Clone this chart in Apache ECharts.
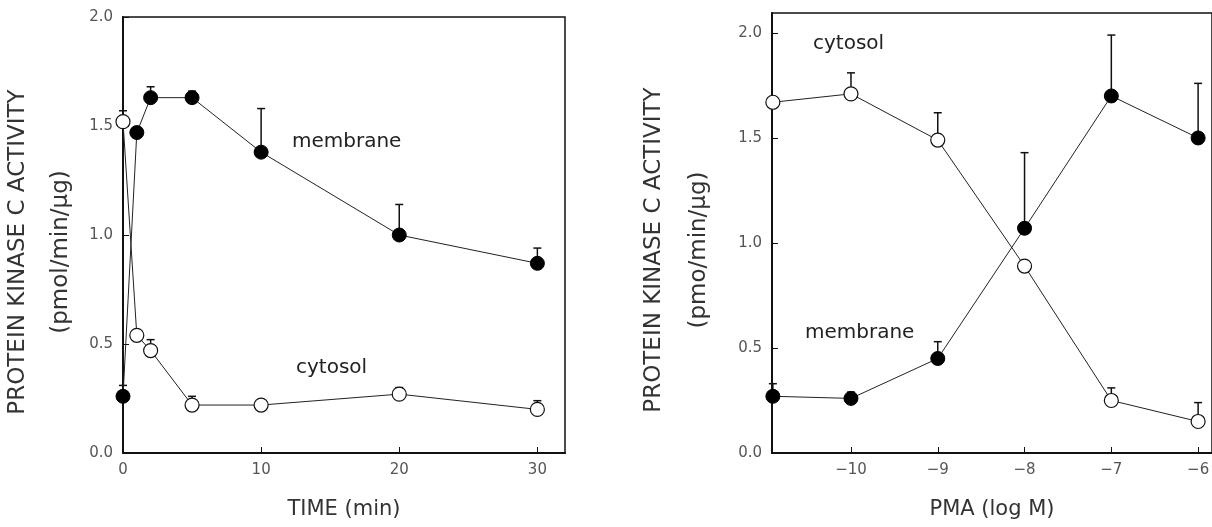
<!DOCTYPE html>
<html>
<head>
<meta charset="utf-8">
<script src="https://cdn.jsdelivr.net/npm/echarts@6/dist/echarts.min.js"></script>
<style>
  html, body { margin: 0; padding: 0; background: #fff; }
  #chart { width: 1212px; height: 527px; }
</style>
</head>
<body>
<div id="chart"></div>
<script>
// left panel: time course
const timeMin = [0, 1, 2, 5, 10, 20, 30];
const timeMembrane = [0.26, 1.47, 1.63, 1.63, 1.38, 1.00, 0.87];
const timeMembraneErr = [0.31, 1.47, 1.68, 1.66, 1.58, 1.14, 0.94];
const timeCytosol = [1.52, 0.54, 0.47, 0.22, 0.22, 0.27, 0.20];
const timeCytosolErr = [1.57, 0.54, 0.52, 0.26, 0.22, 0.30, 0.24];
const timeTicks = [0, 10, 20, 30];

// right panel: dose response
const pmaLog = [-10.9, -10, -9, -8, -7, -6];
const pmaCytosol = [1.67, 1.71, 1.49, 0.89, 0.25, 0.15];
const pmaCytosolErr = [1.67, 1.81, 1.62, 0.89, 0.31, 0.24];
const pmaMembrane = [0.27, 0.26, 0.45, 1.07, 1.70, 1.50];
const pmaMembraneErr = [0.33, 0.29, 0.53, 1.43, 1.99, 1.76];
const pmaTicks = [-10, -9, -8, -7, -6];

const yTicks = [0, 0.5, 1, 1.5, 2];

const FONT = 'DejaVu Sans';
const chart = echarts.init(document.getElementById('chart'));

const pairs = (xs, ys) => xs.map((x, i) => [x, ys[i]]);
const errPairs = (xs, ys, tops) => xs.map((x, i) => [x, ys[i], tops[i]]);

function errorBars(xIdx, data) {
  return {
    type: 'custom',
    xAxisIndex: xIdx,
    yAxisIndex: xIdx,
    z: 1,
    silent: true,
    data,
    renderItem(params, api) {
      const base = api.coord([api.value(0), api.value(1)]);
      const top = api.coord([api.value(0), api.value(2)]);
      if (base[1] - top[1] < 1) return null;
      return {
        type: 'group',
        children: [
          { type: 'line', shape: { x1: base[0], y1: base[1], x2: top[0], y2: top[1] }, style: { stroke: '#111', lineWidth: 1.5 } },
          { type: 'line', shape: { x1: top[0] - 4, y1: top[1], x2: top[0] + 4, y2: top[1] }, style: { stroke: '#111', lineWidth: 1.5 } }
        ]
      };
    }
  };
}

function lineSeries(xIdx, data, filled) {
  return {
    type: 'line',
    xAxisIndex: xIdx,
    yAxisIndex: xIdx,
    z: 3,
    data,
    symbol: 'circle',
    symbolSize: 14,
    showSymbol: true,
    animation: false,
    lineStyle: { color: '#222', width: 1 },
    itemStyle: filled
      ? { color: '#000', borderColor: '#000', borderWidth: 1 }
      : { color: '#fff', borderColor: '#111', borderWidth: 1.2 }
  };
}

const tickLabel = { color: '#555', fontFamily: FONT, fontSize: 15 };
const axisName = { color: '#333', fontFamily: FONT, fontSize: 21 };
// titles sit a little below the axis middle in the original
const yName = { color: '#333', fontFamily: FONT, fontSize: 23, padding: [0, 34, 0, 0] };

chart.setOption({
  animation: false,
  backgroundColor: '#fff',
  grid: [
    { left: 123, top: 17, width: 442, height: 436, outerBoundsMode: 'none', containLabel: false, show: true, borderColor: '#111', borderWidth: 1.5 },
    { left: 772, top: 13, width: 440, height: 440, outerBoundsMode: 'none', containLabel: false, show: true, borderColor: '#111', borderWidth: 1.5 }
  ],
  xAxis: [
    {
      gridIndex: 0, type: 'value', min: 0, max: 32,
      axisLine: { lineStyle: { color: '#111', width: 2 } },
      axisTick: { inside: true, length: 6, customValues: timeTicks, lineStyle: { color: '#111' } },
      axisLabel: Object.assign({ margin: 10, customValues: timeTicks }, tickLabel),
      splitLine: { show: false },
      name: 'TIME (min)', nameLocation: 'middle', nameGap: 46, nameTextStyle: axisName
    },
    {
      gridIndex: 1, type: 'value', min: -10.91, max: -5.84,
      axisLine: { lineStyle: { color: '#111', width: 2 } },
      axisTick: { inside: true, length: 6, customValues: pmaTicks, lineStyle: { color: '#111' } },
      axisLabel: Object.assign({
        margin: 10, customValues: pmaTicks,
        formatter: v => String(v).replace('-', '\u2212')
      }, tickLabel),
      splitLine: { show: false },
      name: 'PMA (log M)', nameLocation: 'middle', nameGap: 46, nameTextStyle: axisName
    }
  ],
  yAxis: [
    {
      gridIndex: 0, type: 'value', min: 0, max: 2,
      axisLine: { show: true, lineStyle: { color: '#111', width: 2 } },
      axisTick: { show: true, inside: true, length: 6, customValues: yTicks, lineStyle: { color: '#111' } },
      axisLabel: Object.assign({ margin: 10, customValues: yTicks, formatter: v => v.toFixed(1) }, tickLabel),
      splitLine: { show: false },
      name: 'PROTEIN KINASE C ACTIVITY\n(pmol/min/\u03bcg)', nameLocation: 'middle', nameRotate: 90, nameGap: 40,
      nameTextStyle: Object.assign({ lineHeight: 43 }, yName)
    },
    {
      gridIndex: 1, type: 'value', min: 0, max: 2.095,
      axisLine: { show: true, lineStyle: { color: '#111', width: 2 } },
      axisTick: { show: true, inside: true, length: 6, customValues: yTicks, lineStyle: { color: '#111' } },
      axisLabel: Object.assign({ margin: 10, customValues: yTicks, formatter: v => v.toFixed(1) }, tickLabel),
      splitLine: { show: false },
      name: 'PROTEIN KINASE C ACTIVITY\n(pmo/min/\u03bcg)', nameLocation: 'middle', nameRotate: 90, nameGap: 50,
      nameTextStyle: Object.assign({ lineHeight: 45 }, yName)
    }
  ],
  graphic: [
    { type: 'text', left: 292, top: 132, style: { text: 'membrane', font: '20px "DejaVu Sans"', fill: '#222' } },
    { type: 'text', left: 296, top: 358, style: { text: 'cytosol', font: '20px "DejaVu Sans"', fill: '#222' } },
    { type: 'text', left: 813, top: 34, style: { text: 'cytosol', font: '20px "DejaVu Sans"', fill: '#222' } },
    { type: 'text', left: 805, top: 323, style: { text: 'membrane', font: '20px "DejaVu Sans"', fill: '#222' } }
  ],
  series: [
    errorBars(0, errPairs(timeMin, timeMembrane, timeMembraneErr)),
    errorBars(0, errPairs(timeMin, timeCytosol, timeCytosolErr)),
    lineSeries(0, pairs(timeMin, timeMembrane), true),
    lineSeries(0, pairs(timeMin, timeCytosol), false),
    errorBars(1, errPairs(pmaLog, pmaCytosol, pmaCytosolErr)),
    errorBars(1, errPairs(pmaLog, pmaMembrane, pmaMembraneErr)),
    lineSeries(1, pairs(pmaLog, pmaCytosol), false),
    lineSeries(1, pairs(pmaLog, pmaMembrane), true)
  ]
});
</script>
</body>
</html>
